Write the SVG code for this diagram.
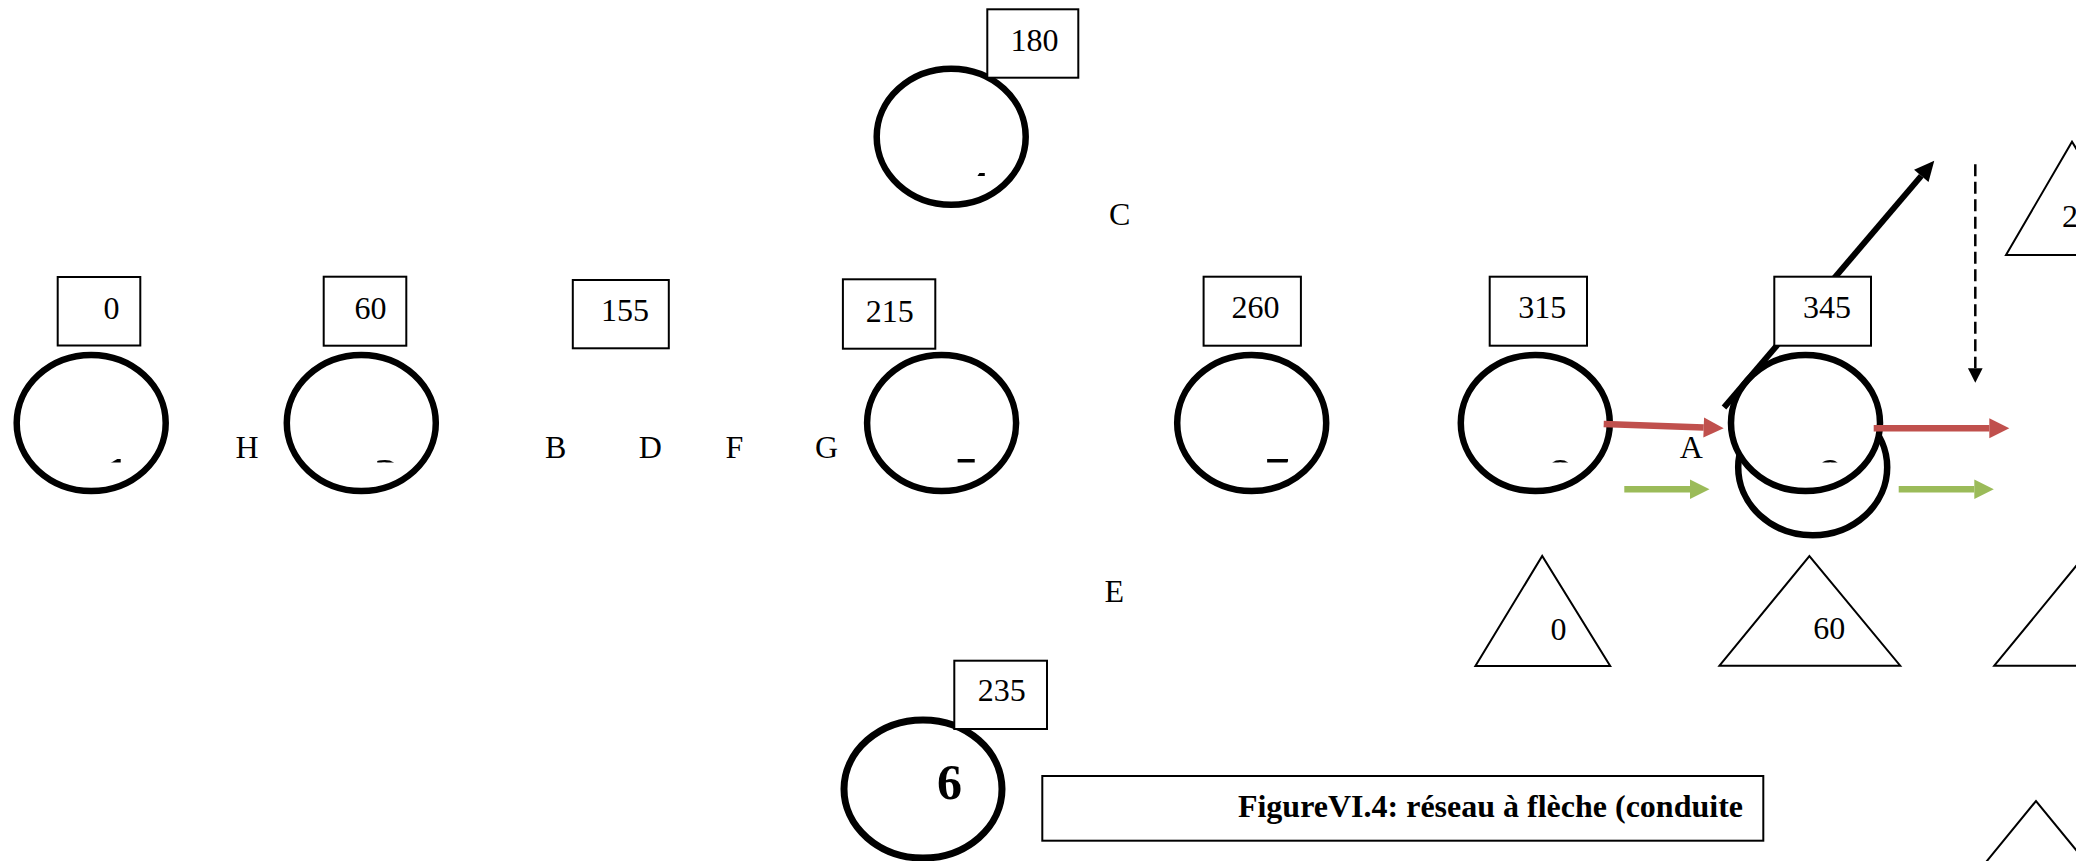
<svg xmlns="http://www.w3.org/2000/svg" width="2076" height="861" viewBox="0 0 2076 861">
<defs>
<style>
.node{fill:#fff;stroke:#000;stroke-width:6.5}
.box{fill:#fff;stroke:#000;stroke-width:2}
.tri{fill:#fff;stroke:#000;stroke-width:2}
.t{font-family:"Liberation Serif","Times New Roman",serif;font-size:32px;fill:#000}
.m{text-anchor:middle}
.num{font-family:"Liberation Serif","Times New Roman",serif;font-size:50px;font-weight:bold;fill:#000;text-anchor:middle}
.cap{font-family:"Liberation Serif","Times New Roman",serif;font-size:32px;font-weight:bold;fill:#000;text-anchor:end}
.red{stroke:#C0504D;stroke-width:6.5;fill:none}
.green{stroke:#9BBB59;stroke-width:6.5;fill:none}
.blk{stroke:#000;stroke-width:6;fill:none}
.dash{stroke:#000;stroke-width:2.5;stroke-dasharray:12 5.5;fill:none}
</style>
<marker id="ahRed" markerUnits="userSpaceOnUse" markerWidth="20" markerHeight="20" refX="0" refY="10" orient="auto" overflow="visible"><path d="M0,0 L20,10 L0,20 Z" fill="#C0504D"/></marker>
<marker id="ahGreen" markerUnits="userSpaceOnUse" markerWidth="19.5" markerHeight="19.5" refX="0" refY="9.75" orient="auto" overflow="visible"><path d="M0,0 L19.5,9.75 L0,19.5 Z" fill="#9BBB59"/></marker>
<marker id="ahBlack" markerUnits="userSpaceOnUse" markerWidth="20" markerHeight="19" refX="0" refY="9.5" orient="auto" overflow="visible"><path d="M0,0 L20,9.5 L0,19 Z" fill="#000"/></marker>
<marker id="ahDash" markerUnits="userSpaceOnUse" markerWidth="14.5" markerHeight="14.7" refX="0" refY="7.35" orient="auto" overflow="visible"><path d="M0,0 L14.5,7.35 L0,14.7 Z" fill="#000"/></marker>
<clipPath id="clipRow" clipPathUnits="userSpaceOnUse"><rect x="0" y="300" width="2076" height="162.5"/></clipPath>
<clipPath id="clipTop" clipPathUnits="userSpaceOnUse"><rect x="850" y="60" width="220" height="116"/></clipPath>
</defs>
<rect x="0" y="0" width="2076" height="861" fill="#fff"/>

<g id="node1"><ellipse class="node" cx="91.2" cy="423" rx="74.5" ry="68"/><text class="num" x="116.5" y="492" clip-path="url(#clipRow)">1</text></g>
<g id="node2"><ellipse class="node" cx="361.3" cy="423" rx="74.5" ry="68"/><text class="num" x="386.5" y="492.5" clip-path="url(#clipRow)">2</text></g>
<g id="node4"><ellipse class="node" cx="951.2" cy="136.7" rx="74.5" ry="68"/><text class="num" x="976.5" y="205.5" clip-path="url(#clipTop)">4</text></g>
<g id="node5"><ellipse class="node" cx="941.6" cy="423" rx="74.5" ry="68"/><text class="num" x="966.6" y="492" clip-path="url(#clipRow)">5</text></g>
<g id="node6"><ellipse class="node" cx="923" cy="789" rx="79" ry="69" style="stroke-width:7"/><text class="num" x="949.5" y="799.3">6</text></g>
<g id="node7"><ellipse class="node" cx="1251.7" cy="423" rx="74.5" ry="68"/><text class="num" x="1276.7" y="492" clip-path="url(#clipRow)">7</text></g>
<g id="node8"><ellipse class="node" cx="1535.3" cy="423" rx="74.5" ry="68"/><text class="num" x="1560.3" y="492.5" clip-path="url(#clipRow)">8</text></g>
<g id="node9b"><ellipse class="node" cx="1812.7" cy="467.3" rx="74.5" ry="68"/></g>
<g id="node9"><ellipse class="node" cx="1805.5" cy="423" rx="74.5" ry="68"/><text class="num" x="1830.5" y="492.5" clip-path="url(#clipRow)">9</text></g>

<g id="connectors">
<line class="red" x1="1603.7" y1="424" x2="1703.7" y2="427.6" marker-end="url(#ahRed)"/>
<line class="red" x1="1873.7" y1="428.3" x2="1989.3" y2="428.3" marker-end="url(#ahRed)"/>
<line class="green" x1="1624.3" y1="489.3" x2="1690" y2="489.3" marker-end="url(#ahGreen)"/>
<line class="green" x1="1898.7" y1="489.3" x2="1974.3" y2="489.3" marker-end="url(#ahGreen)"/>
<line class="blk" x1="1724" y1="407.5" x2="1921.3" y2="175.9" marker-end="url(#ahBlack)"/>
<line class="dash" x1="1975.3" y1="164.3" x2="1975.3" y2="368.3" marker-end="url(#ahDash)"/>
</g>

<g id="time0"><rect class="box" x="57.7" y="277" width="82.6" height="68.5"/><text class="t m" x="111.5" y="319">0</text></g>
<g id="time60"><rect class="box" x="323.7" y="276.7" width="82.6" height="69"/><text class="t m" x="370.5" y="318.5">60</text></g>
<g id="time155"><rect class="box" x="572.8" y="280" width="96" height="68.3"/><text class="t m" x="625" y="320.7">155</text></g>
<g id="time180"><rect class="box" x="987.3" y="9.3" width="91" height="68.4"/><text class="t m" x="1034.5" y="50.7">180</text></g>
<g id="time215"><rect class="box" x="842.9" y="279.3" width="92.4" height="69.4"/><text class="t m" x="889.7" y="321.7">215</text></g>
<g id="time235"><rect class="box" x="954.3" y="660.7" width="92.7" height="68.3"/><text class="t m" x="1001.7" y="701">235</text></g>
<g id="time260"><rect class="box" x="1203.6" y="276.7" width="97.3" height="69"/><text class="t m" x="1255.5" y="318.3">260</text></g>
<g id="time315"><rect class="box" x="1489.7" y="276.7" width="97.3" height="69"/><text class="t m" x="1542.3" y="318.3">315</text></g>
<g id="time345"><rect class="box" x="1774.3" y="276.7" width="96.7" height="69"/><text class="t m" x="1826.9" y="318.3">345</text></g>

<g id="triTR"><polygon class="tri" points="2006,255 2072,141.7 2140.8,255"/><text class="t" x="2062" y="226.7">2</text></g>
<g id="tri1"><polygon class="tri" points="1475.4,666 1542.2,556 1610.2,666"/><text class="t m" x="1558.5" y="640">0</text></g>
<g id="tri2"><polygon class="tri" points="1719.5,665.7 1809.4,556 1900.2,665.7"/><text class="t m" x="1829.3" y="639.3">60</text></g>
<g id="tri3"><polygon class="tri" points="1994.3,665.7 2084.3,556 2175,665.7"/></g>
<g id="tri4"><polygon class="tri" points="1946,911 2036,801 2126,911"/></g>

<g id="labels">
<text class="t" x="235.5" y="458.3">H</text>
<text class="t" x="545" y="458.3">B</text>
<text class="t" x="638.8" y="458.3">D</text>
<text class="t" x="725.5" y="458.3">F</text>
<text class="t" x="815" y="458.3">G</text>
<text class="t" x="1679.8" y="458.3">A</text>
<text class="t" x="1109" y="225">C</text>
<text class="t" x="1104.5" y="602">E</text>
</g>

<g id="caption"><rect class="box" x="1042.3" y="776" width="721" height="64.7"/><text class="cap" x="1743" y="816.5">FigureVI.4: réseau à flèche (conduite</text></g>
</svg>
